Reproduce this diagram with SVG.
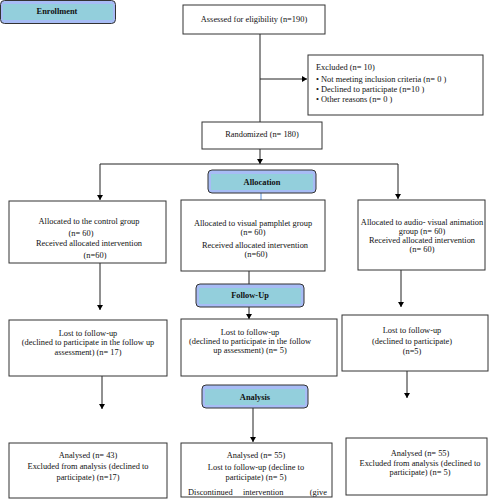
<svg xmlns="http://www.w3.org/2000/svg" width="491" height="500" viewBox="0 0 491 500">
<defs>
<marker id="arr" markerWidth="6" markerHeight="6" refX="5" refY="3" orient="auto" markerUnits="userSpaceOnUse">
<path d="M0,0 L5,3 L0,6 Z" fill="#000"/>
</marker>
<style>
.box{fill:#fff;stroke:#333;stroke-width:1}
.hdr{fill:#a7bcf5;stroke:#333;stroke-width:1}
.band{fill:#93cfdc}
text{font-family:"Liberation Serif","Times New Roman",serif;font-size:8.4px;fill:#111}
.c{text-anchor:middle}
.b{font-weight:bold}
.ln{fill:none;stroke:#222;stroke-width:1}
</style>
</defs>
<rect width="491" height="500" fill="#fff"/>
<g id="connectors">
<path class="ln" d="M260,34 V122"/>
<path class="ln" d="M260,79 H307" marker-end="url(#arr)"/>
<path class="ln" d="M260,149 V164" marker-end="url(#arr)"/>
<path class="ln" d="M100,164 H398"/>
<path class="ln" d="M100,164 V200" marker-end="url(#arr)"/>
<path class="ln" d="M398,164 V199" marker-end="url(#arr)"/>
<path d="M261,193 V200" stroke="#5b8fd6" stroke-width="1" fill="none"/>
<path class="ln" d="M100,263 V310" marker-end="url(#arr)"/>
<path class="ln" d="M249,271 V284"/>
<path class="ln" d="M249,307 V319" marker-end="url(#arr)"/>
<path class="ln" d="M401,270 V307" marker-end="url(#arr)"/>
<path class="ln" d="M102,376 V409" marker-end="url(#arr)"/>
<path class="ln" d="M253,408 V442" marker-end="url(#arr)"/>
<path class="ln" d="M407,371 V398" marker-end="url(#arr)"/>
</g>
<g id="enrollment">
<rect class="hdr" x="0.5" y="0.5" width="115" height="23" rx="4"/>
<rect class="band" x="3" y="4" width="110" height="16"/>
<text class="c b" x="57" y="14">Enrollment</text>
</g>
<g id="assessed">
<rect class="box" x="183" y="5" width="142" height="29"/>
<text class="c" x="254" y="22">Assessed for eligibility (n=190)</text>
</g>
<g id="excluded">
<rect class="box" x="308" y="55" width="175" height="60"/>
<text x="316" y="70">Excluded (n= 10)</text>
<text x="316" y="82">•</text><text x="321" y="82">Not meeting inclusion criteria (n= 0 )</text>
<text x="316" y="92">•</text><text x="321" y="92">Declined to participate (n=10  )</text>
<text x="316" y="102">•</text><text x="321" y="102">Other reasons (n= 0 )</text>
</g>
<g id="randomized">
<rect class="box" x="202" y="122" width="120" height="27"/>
<text class="c" x="262" y="137">Randomized (n= 180)</text>
</g>
<g id="allocation">
<rect class="hdr" x="208" y="170" width="108" height="23" rx="4"/>
<rect class="band" x="211" y="174" width="102" height="16"/>
<text class="c b" x="262" y="185">Allocation</text>
</g>
<g id="alloc-control">
<rect class="box" x="9" y="201" width="157" height="62"/>
<text class="c" x="89" y="224">Allocated to the control group</text>
<text class="c" x="81" y="236">(n= 60)</text>
<text class="c" x="89" y="246">Received allocated intervention</text>
<text class="c" x="95" y="258">(n=60)</text>
</g>
<g id="alloc-pamphlet">
<rect class="box" x="181" y="200" width="144" height="71"/>
<text class="c" x="253" y="226">Allocated to visual pamphlet group</text>
<text class="c" x="253" y="235">(n= 60)</text>
<text class="c" x="255" y="248">Received allocated intervention</text>
<text class="c" x="256" y="257">(n=60)</text>
</g>
<g id="alloc-animation">
<rect class="box" x="358" y="200" width="127" height="70"/>
<text class="c" x="422" y="225">Allocated to audio- visual animation</text>
<text class="c" x="422" y="234">group (n= 60)</text>
<text class="c" x="422" y="243">Received allocated intervention</text>
<text class="c" x="422" y="252">(n= 60)</text>
</g>
<g id="followup">
<rect class="hdr" x="196" y="284" width="108" height="23" rx="4"/>
<rect class="band" x="199" y="288" width="102" height="16"/>
<text class="c b" x="250" y="298">Follow-Up</text>
</g>
<g id="lost-control">
<rect class="box" x="9" y="320" width="158" height="56"/>
<text class="c" x="88" y="336">Lost to follow-up</text>
<text class="c" x="88" y="345">(declined to participate in the follow up</text>
<text class="c" x="88" y="355">assessment) (n= 17)</text>
</g>
<g id="lost-pamphlet">
<rect class="box" x="181" y="319" width="156" height="57"/>
<text class="c" x="250" y="335">Lost to follow-up</text>
<text class="c" x="250" y="344">(declined to participate in the follow</text>
<text class="c" x="250" y="353">up assessment) (n= 5)</text>
</g>
<g id="lost-animation">
<rect class="box" x="342" y="315" width="146" height="56"/>
<text class="c" x="412" y="333">Lost to follow-up</text>
<text class="c" x="412" y="344">(declined to participate)</text>
<text class="c" x="412" y="354">(n=5)</text>
</g>
<g id="analysis">
<rect class="hdr" x="202" y="385" width="106" height="23" rx="4"/>
<rect class="band" x="205" y="389" width="100" height="16"/>
<text class="c b" x="255" y="400">Analysis</text>
</g>
<g id="analysed-control">
<rect class="box" x="9" y="443" width="158" height="55"/>
<text class="c" x="88" y="458">Analysed (n= 43)</text>
<text class="c" x="88" y="469">Excluded from analysis (declined to</text>
<text class="c" x="88" y="480">participate) (n=17)</text>
</g>
<g id="analysed-pamphlet">
<rect class="box" x="181" y="443" width="151" height="54"/>
<text class="c" x="256" y="458">Analysed (n= 55)</text>
<text class="c" x="256" y="470">Lost to follow-up (decline to</text>
<text class="c" x="256" y="480">participate) (n= 5)</text>
<text x="188" y="495">Discontinued</text>
<text x="243" y="495">intervention</text>
<text x="327" y="495" text-anchor="end">(give</text>
</g>
<g id="analysed-animation">
<rect class="box" x="346" y="438" width="141" height="57"/>
<text class="c" x="420" y="456">Analysed (n= 55)</text>
<text class="c" x="420" y="466">Excluded from analysis (declined to</text>
<text class="c" x="420" y="475">participate) (n= 5)</text>
</g>
</svg>
